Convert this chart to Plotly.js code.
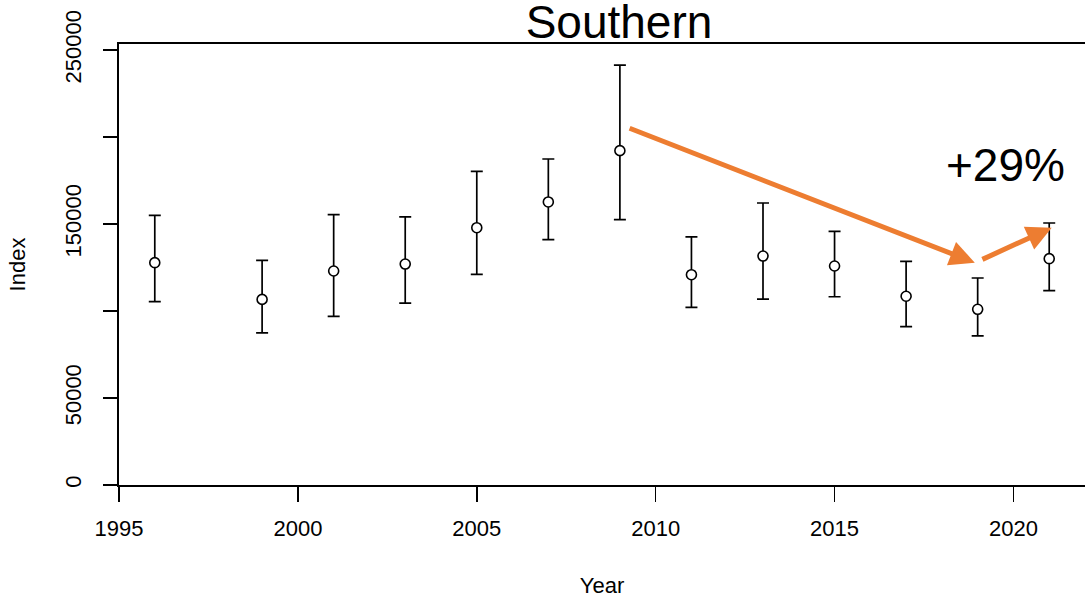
<!DOCTYPE html>
<html>
<head>
<meta charset="utf-8">
<script src="https://cdn.plot.ly/plotly-3.0.1.min.js"></script>
<style>html,body{margin:0;padding:0;background:#fff;}#chart{width:1085px;height:598px;}</style>
</head>
<body>
<div id="chart"></div>
<script>
// Data
const years = [1996, 1999, 2001, 2003, 2005, 2007, 2009, 2011, 2013, 2015, 2017, 2019, 2021];
const indexValues = [127800, 106700, 123000, 127000, 147900, 162700, 192200, 120900, 131600, 125900, 108500, 101000, 130100];
const upperValues = [155000, 129100, 155400, 154100, 180300, 187400, 241400, 142600, 162100, 145800, 128600, 119000, 150600];
const lowerValues = [105400, 87500, 96900, 104600, 121100, 141000, 152500, 102100, 106900, 108200, 91000, 85700, 111700];

const xTickVals = [1995, 2000, 2005, 2010, 2015, 2020];
const xTickText = ['1995', '2000', '2005', '2010', '2015', '2020'];
const yTickVals = [0, 50000, 100000, 150000, 200000, 250000];
const yTickText = ['0', '50000', '', '150000', '', '250000'];

// Orange arrows: [startYear, startValue, endYear, endValue]
const declineArrow = [2009.23, 205400, 2018.92, 127800];
const recoveryArrow = [2019.09, 129300, 2021.07, 147900];
const changeLabel = '+29%';

const errPlus = upperValues.map((u, i) => u - indexValues[i]);
const errMinus = indexValues.map((v, i) => v - lowerValues[i]);

const FONT = 'Liberation Sans, Arial, sans-serif';
const ORANGE = '#ED7D31';

const trace = {
  x: years,
  y: indexValues,
  type: 'scatter',
  mode: 'markers',
  marker: {symbol: 'circle', size: 10, color: '#ffffff', line: {color: '#000000', width: 1.6}},
  error_y: {
    type: 'data', symmetric: false,
    array: errPlus, arrayminus: errMinus,
    color: '#000000', thickness: 1.7, width: 6
  },
  hoverinfo: 'x+y',
  showlegend: false
};

function arrow(a) {
  return {
    x: a[2], y: a[3], ax: a[0], ay: a[1],
    xref: 'x', yref: 'y', axref: 'x', ayref: 'y',
    showarrow: true, arrowhead: 2, arrowsize: 1, arrowwidth: 5,
    arrowcolor: ORANGE, text: '', standoff: 0, startstandoff: 0
  };
}

const layout = {
  width: 1085, height: 598,
  margin: {l: 119, r: 0, t: 44, b: 113},
  paper_bgcolor: '#ffffff', plot_bgcolor: '#ffffff',
  font: {family: FONT, color: '#000000', size: 22},
  title: {
    text: 'Southern', font: {family: FONT, size: 46, color: '#000000'},
    xref: 'container', yref: 'container', x: 0.5705, xanchor: 'center',
    y: 1.062, yanchor: 'middle'
  },
  xaxis: {
    range: [1995, 2022], tickmode: 'array', tickvals: xTickVals, ticktext: xTickText,
    ticks: 'outside', ticklen: 15, tickwidth: 1.5, tickcolor: '#000',
    showline: true, linecolor: '#000', linewidth: 1.6, mirror: true,
    showgrid: false, zeroline: false, ticklabelstandoff: 8,
    tickfont: {size: 22, family: FONT},
    title: {text: 'Year', font: {size: 22, family: FONT}, standoff: 38}
  },
  yaxis: {
    range: [0, 253500], tickmode: 'array', tickvals: yTickVals, ticktext: yTickText,
    ticks: 'outside', ticklen: 14, tickwidth: 1.5, tickcolor: '#000',
    showline: true, linecolor: '#000', linewidth: 1.6, mirror: true,
    showgrid: false, zeroline: false, tickangle: -90, ticklabelstandoff: 14,
    tickfont: {size: 22, family: FONT},
    title: {text: 'Index', font: {size: 22, family: FONT}, standoff: 29}
  },
  annotations: [
    arrow(declineArrow),
    arrow(recoveryArrow),
    {x: 2019.79, y: 184000, xref: 'x', yref: 'y', text: changeLabel, showarrow: false,
     font: {family: FONT, size: 46, color: '#000'}, xanchor: 'center', yanchor: 'middle'}
  ]
};

Plotly.newPlot('chart', [trace], layout, {displayModeBar: false, staticPlot: true});
</script>
</body>
</html>
